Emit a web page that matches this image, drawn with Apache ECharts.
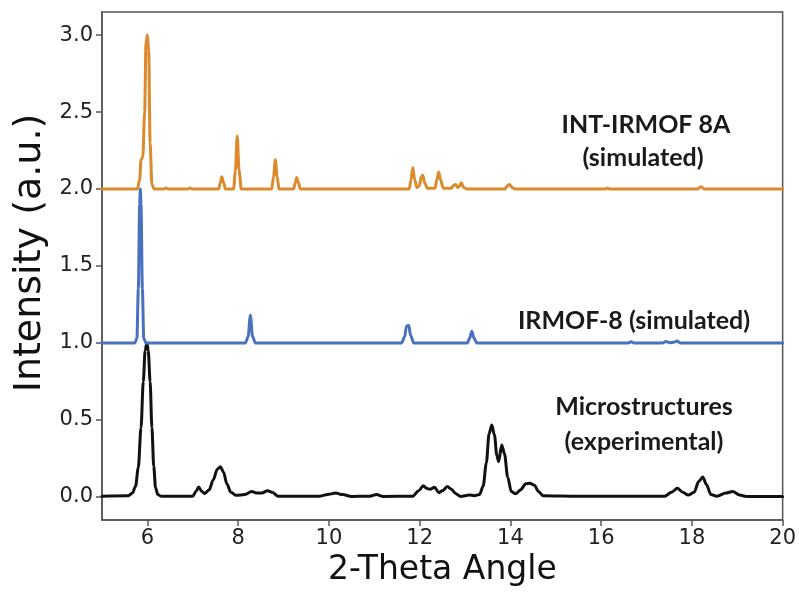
<!DOCTYPE html>
<html>
<head>
<meta charset="utf-8">
<script src="https://cdn.jsdelivr.net/npm/echarts@6/dist/echarts.min.js"></script>
<style>html,body{margin:0;padding:0;background:#fff;}#c{width:799px;height:592px;}</style>
</head>
<body>
<div id="c"></div>
<script>
// ---- data ----
const xTicks = [6, 8, 10, 12, 14, 16, 18, 20];
const yTicks = [0, 0.5, 1.0, 1.5, 2.0, 2.5, 3.0];

const experimental = [[5.0,0.005],[5.58,0.008],[5.67,0.025],[5.74,0.07],[5.8,0.19],[5.86,0.45],[5.91,0.75],[5.95,0.95],[5.99,1.0],[6.02,0.95],[6.06,0.75],[6.1,0.45],[6.14,0.2],[6.18,0.06],[6.23,0.015],[6.3,0.005],[7.0,0.005],[7.07,0.035],[7.13,0.065],[7.19,0.038],[7.26,0.022],[7.36,0.045],[7.45,0.11],[7.54,0.18],[7.61,0.196],[7.68,0.16],[7.75,0.085],[7.84,0.03],[7.96,0.01],[8.15,0.015],[8.3,0.035],[8.42,0.025],[8.52,0.025],[8.65,0.04],[8.76,0.028],[8.88,0.005],[9.8,0.005],[10.0,0.018],[10.15,0.025],[10.3,0.015],[10.5,0.003],[10.9,0.005],[11.05,0.015],[11.2,0.003],[11.85,0.005],[11.98,0.04],[12.08,0.072],[12.16,0.055],[12.23,0.05],[12.33,0.063],[12.42,0.028],[12.5,0.04],[12.61,0.067],[12.7,0.05],[12.8,0.02],[12.9,0.003],[13.1,0.013],[13.2,0.008],[13.32,0.015],[13.4,0.07],[13.47,0.22],[13.53,0.41],[13.59,0.467],[13.65,0.4],[13.7,0.27],[13.74,0.23],[13.81,0.337],[13.87,0.28],[13.94,0.13],[14.02,0.035],[14.12,0.02],[14.22,0.045],[14.34,0.085],[14.43,0.089],[14.53,0.075],[14.62,0.035],[14.72,0.008],[15.5,0.005],[17.4,0.005],[17.55,0.03],[17.68,0.056],[17.8,0.03],[17.92,0.012],[18.05,0.03],[18.15,0.1],[18.24,0.13],[18.32,0.08],[18.42,0.015],[18.55,0.005],[18.75,0.025],[18.9,0.035],[19.05,0.012],[19.2,0.003],[20.0,0.003]];

const irmof8 = [[5.0,1.0],[5.72,1.0],[5.77,1.03],[5.8,1.35],[5.83,1.9],[5.845,2.0],[5.86,1.9],[5.89,1.35],[5.92,1.03],[5.97,1.0],[8.16,1.0],[8.22,1.04],[8.27,1.18],[8.32,1.04],[8.38,1.0],[11.6,1.0],[11.67,1.04],[11.71,1.11],[11.76,1.115],[11.8,1.05],[11.87,1.0],[13.05,1.0],[13.1,1.03],[13.15,1.076],[13.2,1.03],[13.26,1.0],[16.6,1.0],[16.66,1.008],[16.72,1.0],[17.35,1.0],[17.43,1.01],[17.52,1.002],[17.6,1.004],[17.67,1.012],[17.75,1.0],[20.0,1.0]];

const intIrmof8A = [[5.0,2.0],[5.78,2.0],[5.83,2.06],[5.86,2.19],[5.9,2.21],[5.94,2.5],[5.97,2.95],[6.0,3.0],[6.03,2.9],[6.06,2.3],[6.1,2.03],[6.15,2.0],[6.35,2.0],[6.41,2.006],[6.47,2.0],[6.88,2.0],[6.94,2.006],[7.0,2.0],[7.57,2.0],[7.61,2.04],[7.64,2.08],[7.68,2.04],[7.72,2.0],[7.9,2.0],[7.94,2.12],[7.98,2.345],[8.02,2.12],[8.07,2.0],[8.74,2.0],[8.78,2.08],[8.82,2.19],[8.86,2.08],[8.9,2.0],[9.22,2.0],[9.26,2.04],[9.29,2.075],[9.33,2.04],[9.37,2.0],[11.77,2.0],[11.81,2.06],[11.85,2.14],[11.89,2.06],[11.94,2.01],[11.99,2.02],[12.04,2.08],[12.07,2.09],[12.11,2.04],[12.17,2.005],[12.34,2.005],[12.38,2.06],[12.42,2.11],[12.46,2.06],[12.52,2.005],[12.7,2.005],[12.75,2.025],[12.79,2.03],[12.84,2.01],[12.88,2.02],[12.92,2.04],[12.97,2.01],[13.05,2.0],[13.88,2.0],[13.93,2.02],[13.98,2.03],[14.04,2.01],[14.1,2.0],[16.1,2.0],[16.14,2.006],[16.18,2.0],[18.12,2.0],[18.2,2.015],[18.28,2.0],[20.0,2.0]];

const labels = ['INT-IRMOF 8A', '(simulated)', 'IRMOF-8 (simulated)', 'Microstructures', '(experimental)'];
const xTitle = '2-Theta Angle';
const yTitle = 'Intensity (a.u.)';

// ---- chart ----
const chart = echarts.init(document.getElementById('c'), null, {renderer: 'canvas'});
const axisColor = '#555';
const tickFont = {fontFamily: 'DejaVu Sans', fontSize: 21, color: '#222'};
const annFont = {fontFamily: 'Lato', fontWeight: 'bold', fontSize: 25, fill: '#1a1a1a'};

function lineSeries(name, data, color) {
  return {
    name: name, type: 'line', data: data, symbol: 'none',
    smooth: 0.3, smoothMonotone: 'x',
    lineStyle: {color: color, width: 3, join: 'round', cap: 'round'},
    z: 3
  };
}

chart.setOption({
  backgroundColor: '#fff',
  animation: false,
  grid: {left: 102, right: 16, top: 12, bottom: 70, show: true, borderColor: axisColor, borderWidth: 1.5, backgroundColor: '#fff'},
  xAxis: {
    type: 'value', min: 5, max: 20,
    name: xTitle, nameLocation: 'middle', nameGap: 34,
    nameTextStyle: {fontFamily: 'DejaVu Sans', fontSize: 33, color: '#111'},
    axisLine: {show: true, onZero: false, lineStyle: {color: axisColor, width: 1.5}},
    axisTick: {show: true, customValues: xTicks, length: 6, lineStyle: {color: axisColor, width: 1.5}},
    axisLabel: Object.assign({customValues: xTicks, margin: 8}, tickFont),
    splitLine: {show: false}
  },
  yAxis: {
    type: 'value', min: -0.15, max: 3.15,
    axisLine: {show: true, onZero: false, lineStyle: {color: axisColor, width: 1.5}},
    axisTick: {show: true, customValues: yTicks, length: 6, lineStyle: {color: axisColor, width: 1.5}},
    axisLabel: Object.assign({customValues: yTicks, margin: 9, formatter: v => v.toFixed(1)}, tickFont),
    splitLine: {show: false}
  },
  series: [
    lineSeries('Microstructures (experimental)', experimental, '#111111'),
    lineSeries('IRMOF-8 (simulated)', irmof8, '#4a70c0'),
    lineSeries('INT-IRMOF 8A (simulated)', intIrmof8A, '#dc8a2c')
  ],
  graphic: [
    {type: 'text', x: 30, y: 253, rotation: Math.PI / 2,
     style: {text: yTitle, align: 'center', verticalAlign: 'middle', fontFamily: 'DejaVu Sans', fontSize: 38, fill: '#111'}},
    {type: 'text', x: 646, y: 125, style: Object.assign({text: labels[0], align: 'center', verticalAlign: 'middle'}, annFont)},
    {type: 'text', x: 643, y: 158, style: Object.assign({text: labels[1], align: 'center', verticalAlign: 'middle'}, annFont)},
    {type: 'text', x: 634, y: 321, style: Object.assign({text: labels[2], align: 'center', verticalAlign: 'middle'}, annFont)},
    {type: 'text', x: 644, y: 407, style: Object.assign({text: labels[3], align: 'center', verticalAlign: 'middle'}, annFont)},
    {type: 'text', x: 644, y: 442, style: Object.assign({text: labels[4], align: 'center', verticalAlign: 'middle'}, annFont)}
  ]
});
</script>
</body>
</html>
